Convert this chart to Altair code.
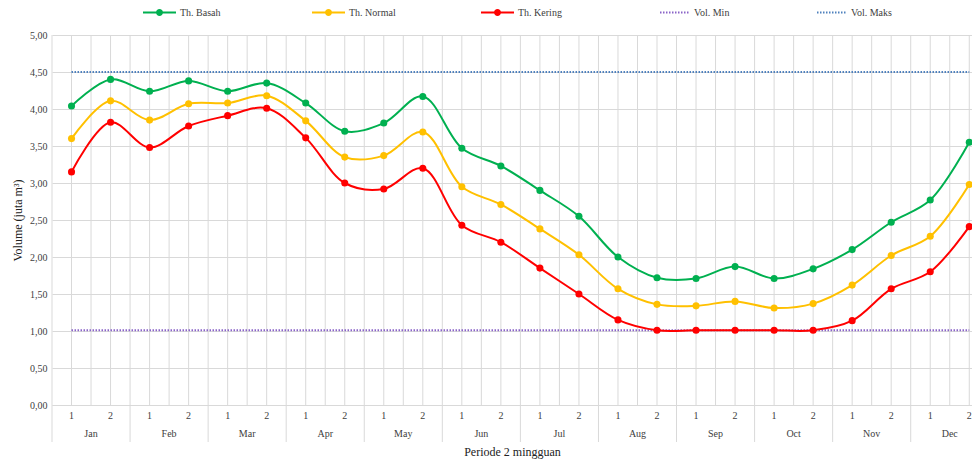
import altair as alt
import pandas as pd

months = ["Jan", "Feb", "Mar", "Apr", "May", "Jun", "Jul", "Aug", "Sep", "Oct", "Nov", "Dec"]
weeks = ["1", "2"]
series_names = ["Th. Basah", "Th. Normal", "Th. Kering"]
series_colors = ["#00B050", "#FFC000", "#FF0000"]
th_basah = [4.04, 4.40, 4.24, 4.38, 4.24, 4.35, 4.08, 3.70, 3.81, 4.17, 3.47, 3.23,
            2.90, 2.55, 2.00, 1.72, 1.71, 1.87, 1.71, 1.84, 2.10, 2.47, 2.77, 3.55]
th_normal = [3.60, 4.11, 3.85, 4.07, 4.08, 4.18, 3.84, 3.35, 3.37, 3.69, 2.95, 2.71,
             2.38, 2.03, 1.57, 1.36, 1.34, 1.40, 1.31, 1.37, 1.62, 2.02, 2.28, 2.98]
th_kering = [3.15, 3.82, 3.48, 3.77, 3.91, 4.01, 3.61, 3.00, 2.92, 3.20, 2.43, 2.20,
             1.85, 1.50, 1.15, 1.01, 1.01, 1.01, 1.01, 1.01, 1.14, 1.57, 1.80, 2.41]
limit_names = ["Vol. Min", "Vol. Maks"]
limit_colors = ["#8A64C8", "#4F81BD"]
vol_min = 1.01
vol_maks = 4.50
y_ticks = [0, 0.5, 1, 1.5, 2, 2.5, 3, 3.5, 4, 4.5, 5]

n = len(th_basah)
X_MAX = 23.07  # the original chart is cut at its right edge

rows = []
for name, vals in zip(series_names, [th_basah, th_normal, th_kering]):
    for i, v in enumerate(vals):
        rows.append({"x": i, "series": name, "value": v})
df = pd.DataFrame(rows)

lim_rows = []
for name, v in zip(limit_names, [vol_min, vol_maks]):
    for i in [0, n - 1]:
        lim_rows.append({"x": i, "limit": name, "value": v})
df_lim = pd.DataFrame(lim_rows)

df_week = pd.DataFrame({"x": list(range(n)), "week": [weeks[i % 2] for i in range(n)]})
df_month = pd.DataFrame({"x": [2 * k + 0.5 for k in range(len(months))], "month": months})
df_sep = pd.DataFrame({"x": [2 * k - 0.5 for k in range(len(months) + 1) if 2 * k - 0.5 <= X_MAX]})
df_grid = pd.DataFrame({"x": [i / 2 - 0.5 for i in range(2 * n + 1) if i / 2 - 0.5 <= X_MAX]})

W, H = 920, 370
FONT = "Liberation Serif"
TXT = "#404040"
GRID = "#d9d9d9"

xscale = alt.Scale(domain=[-0.5, X_MAX], nice=False, zero=False)
yscale = alt.Scale(domain=[0, 5], nice=False)

x_axis = alt.Axis(labels=False, grid=False, ticks=False, domainColor=GRID,
                  title="Periode 2 mingguan", titleFont=FONT, titleFontSize=12,
                  titleFontWeight="normal", titleColor="#222222", titlePadding=41)
x_enc = alt.X("x:Q", scale=xscale, axis=x_axis)
y_axis = alt.Axis(values=y_ticks, grid=True, gridColor=GRID, ticks=False, domain=False,
                  labelExpr="replace(format(datum.value, '.2f'), '.', ',')",
                  labelFont=FONT, labelFontSize=10, labelColor=TXT, labelPadding=5,
                  title="Volume (juta m³)", titleFont=FONT, titleFontSize=12,
                  titleFontWeight="normal", titleColor="#222222", titlePadding=5)
y_enc = alt.Y("value:Q", scale=yscale, axis=y_axis)

sym_path = ("M-1,0H1M-0.15,0A0.15,0.15,0,1,1,0.15,0A0.15,0.15,0,1,1,-0.15,0Z"
            "M-0.06,0A0.06,0.06,0,1,1,0.06,0A0.06,0.06,0,1,1,-0.06,0Z")
legend1 = alt.Legend(orient="none", legendX=90, legendY=-40, direction="horizontal",
                     columns=3, gridAlign="all", columnPadding=81, title=None,
                     symbolType=sym_path, symbolSize=1089, symbolStrokeWidth=2,
                     labelFont=FONT, labelFontSize=10, labelColor=TXT, labelOffset=3)
color_enc = alt.Color("series:N", scale=alt.Scale(domain=series_names, range=series_colors),
                      sort=series_names, legend=legend1)

grid = alt.Chart(df_grid).mark_rule(color=GRID, strokeWidth=1).encode(x=x_enc)
seps = alt.Chart(df_sep).mark_rule(color=GRID, strokeWidth=1).encode(
    x=x_enc, y=alt.value(H), y2=alt.value(H + 37))

lines = alt.Chart(df).mark_line(interpolate="catmull-rom", strokeWidth=2).encode(
    x=x_enc, y=y_enc, color=color_enc)
points = alt.Chart(df).mark_point(filled=True, size=50, opacity=1).encode(
    x=x_enc, y=y_enc, color=color_enc)

legend2 = alt.Legend(orient="none", legendX=607, legendY=-38.5, direction="horizontal",
                     columns=2, gridAlign="all", columnPadding=78, title=None,
                     symbolType="stroke", symbolSize=900, symbolStrokeWidth=2,
                     symbolDash=[1.5, 1.5],
                     labelFont=FONT, labelFontSize=10, labelColor=TXT, labelOffset=3)
limits = alt.Chart(df_lim).mark_line(strokeDash=[1.5, 1.5], strokeWidth=2).encode(
    x=x_enc, y=y_enc,
    stroke=alt.Stroke("limit:N", scale=alt.Scale(domain=limit_names, range=limit_colors),
                      sort=limit_names, legend=legend2))

week_text = alt.Chart(df_week).mark_text(font=FONT, fontSize=10, color=TXT, baseline="middle").encode(
    x=x_enc, y=alt.value(H + 11), text="week:N")
month_text = alt.Chart(df_month).mark_text(font=FONT, fontSize=10, color=TXT, baseline="middle").encode(
    x=x_enc, y=alt.value(H + 29), text="month:N")

chart = alt.layer(grid, seps, limits, lines, points, week_text, month_text).properties(
    width=W, height=H,
    autosize=alt.AutoSizeParams(type="none"),
    padding={"left": 44, "top": 27, "right": 0, "bottom": 56},
).configure_view(stroke=None)

chart.save("out.html", embed_options={"renderer": "svg", "actions": False})
